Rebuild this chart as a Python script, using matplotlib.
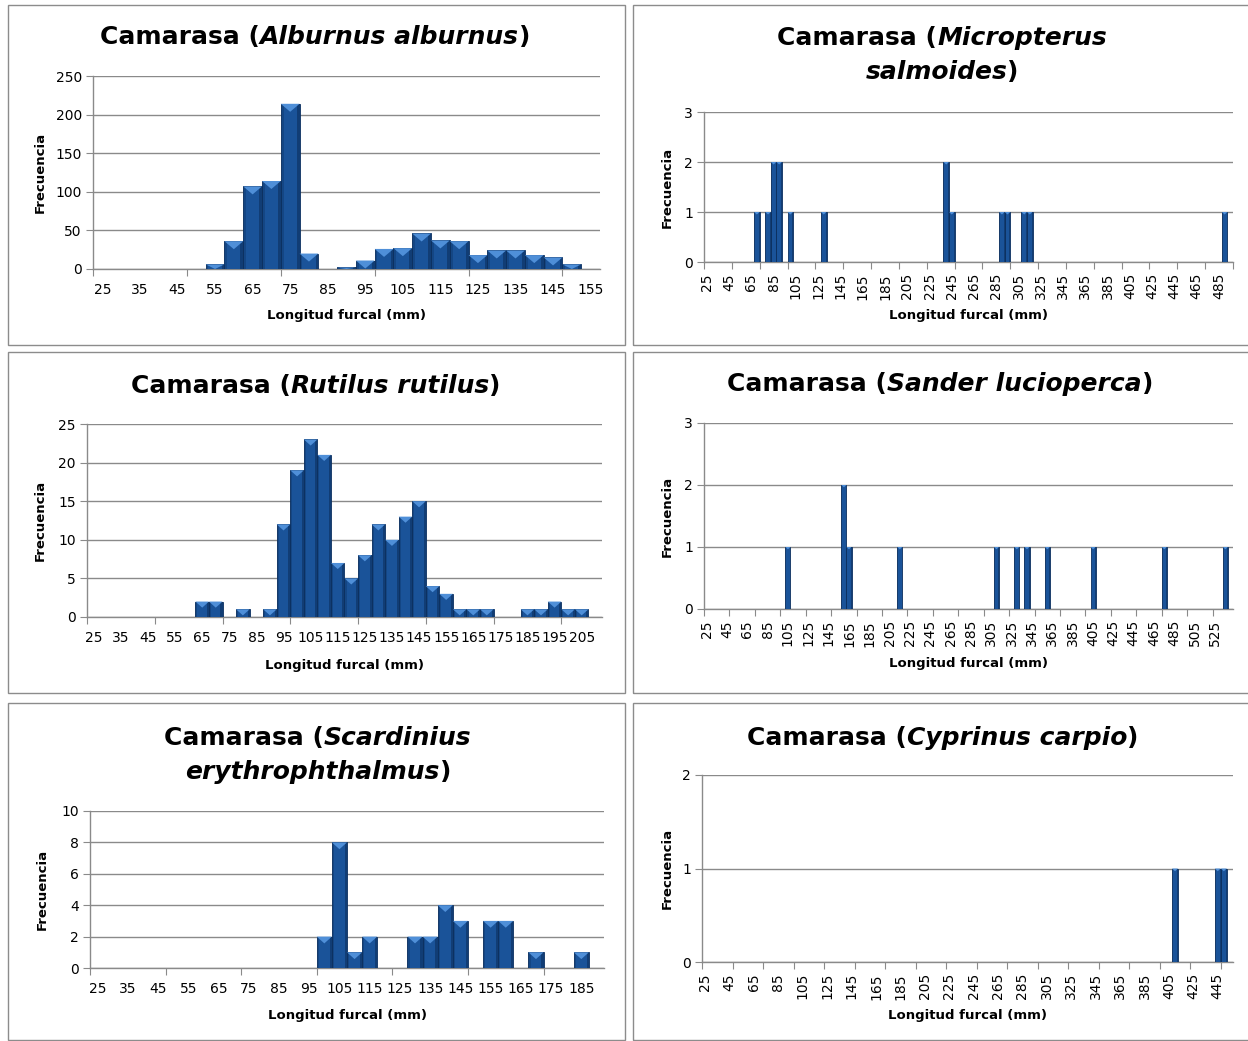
import matplotlib
matplotlib.use("Agg")
import matplotlib.pyplot as plt
from matplotlib.patches import Rectangle, Polygon

plt.rcParams['font.family'] = ['DejaVu Sans']

W, H = 1248, 1041

# --- datos: clases de longitud furcal (mm, limite inferior) y frecuencias ---
alburnus_bins = [55, 60, 65, 70, 75, 80, 90, 95, 100, 105, 110, 115, 120, 125, 130, 135, 140, 145, 150]
alburnus_counts = [6, 36, 107, 114, 214, 20, 2, 11, 26, 27, 46, 37, 36, 18, 24, 24, 18, 15, 6]

micropterus_bins = [70, 80, 85, 90, 100, 130, 240, 245, 290, 295, 310, 315, 490]
micropterus_counts = [1, 1, 2, 2, 1, 1, 2, 1, 1, 1, 1, 1, 1]

rutilus_bins = [65, 70, 80, 90, 95, 100, 105, 110, 115, 120, 125, 130, 135, 140, 145,
                150, 155, 160, 165, 170, 185, 190, 195, 200, 205]
rutilus_counts = [2, 2, 1, 1, 12, 19, 23, 21, 7, 5, 8, 12, 10, 13, 15,
                  4, 3, 1, 1, 1, 1, 1, 2, 1, 1]

sander_bins = [105, 160, 165, 215, 310, 330, 340, 360, 405, 475, 535]
sander_counts = [1, 2, 1, 1, 1, 1, 1, 1, 1, 1, 1]

scardinius_bins = [100, 105, 110, 115, 130, 135, 140, 145, 155, 160, 170, 185]
scardinius_counts = [2, 8, 1, 2, 2, 2, 4, 3, 3, 3, 1, 1]

cyprinus_bins = [410, 445, 450]
cyprinus_counts = [1, 1, 1]

BASE = '#1a5399'
DARK = '#0b2f5e'
LIGHT = '#4f8fd8'
GRID = '#8a8a8a'

fig = plt.figure(figsize=(W / 100, H / 100), dpi=100)


def frame(x0, y0, x1, y1):
    fig.patches.append(Rectangle((x0 / W, 1 - y1 / H), (x1 - x0) / W, (y1 - y0) / H,
                                 transform=fig.transFigure, fill=False,
                                 edgecolor='#8c8c8c', linewidth=1.0))


def rich_line(xc, y, parts, size=18):
    r = fig.canvas.get_renderer()
    texts = []
    for s, st in parts:
        t = fig.text(0, 1 - y / H, s, fontsize=size, fontweight='bold',
                     fontstyle=st, ha='left', va='center')
        texts.append(t)
    widths = [t.get_window_extent(renderer=r).width for t in texts]
    x = xc - sum(widths) / 2
    for t, w in zip(texts, widths):
        t.set_x(x / W)
        x += w


def panel(box, bins, counts, last, ymax, ystep, lab_every, rotate, ylab_x, xlab_y):
    x0, y0, x1, y1 = box
    ax = fig.add_axes([x0 / W, 1 - y1 / H, (x1 - x0) / W, (y1 - y0) / H])
    ncat = (last - 25) // 5 + 1
    cats = [25 + 5 * i for i in range(ncat)]
    pos = [(b - 25) // 5 for b in bins]
    bars = ax.bar(pos, counts, width=1.0, color=BASE, edgecolor=DARK,
                  linewidth=0.6, zorder=3)

    px_x = (x1 - x0) / ncat
    px_y = (y1 - y0) / ymax
    for b in bars:
        bx, bw, bh = b.get_x(), b.get_width(), b.get_height()
        e = bw * 0.15
        ax.add_patch(Rectangle((bx, 0), e, bh, color=DARK, lw=0, alpha=0.35, zorder=4))
        ax.add_patch(Rectangle((bx + bw - e, 0), e, bh, color=DARK, lw=0, alpha=0.6, zorder=4))
        d = min(0.45 * bw * px_x, 8) / px_y
        d = min(d, bh)
        ax.add_patch(Polygon([(bx, bh), (bx + bw, bh), (bx + bw / 2, bh - d)],
                             closed=True, color=LIGHT, lw=0, zorder=5))

    ax.set_xlim(-0.5, ncat - 0.5)
    ax.set_ylim(0, ymax)
    ax.set_yticks(range(0, ymax + 1, ystep))
    ax.yaxis.grid(True, color=GRID, linewidth=1.0, zorder=0)
    ax.set_axisbelow(True)
    for s in ('top', 'right'):
        ax.spines[s].set_visible(False)
    for s in ('left', 'bottom'):
        ax.spines[s].set_color(GRID)
        ax.spines[s].set_linewidth(1.0)

    ax.set_xticks([i - 0.5 for i in range(0, ncat + 1, 5)])
    ax.set_xticklabels([])
    ax.set_xticks(list(range(0, ncat, lab_every)), minor=True)
    ax.set_xticklabels([str(c) for c in cats[::lab_every]], minor=True,
                       rotation=90 if rotate else 0, fontsize=10)
    ax.tick_params(axis='x', which='major', length=5, color=GRID, direction='out')
    ax.tick_params(axis='x', which='minor', length=0, pad=8 if rotate else 10)
    ax.tick_params(axis='y', length=5, color=GRID, labelsize=10, pad=3)

    fig.text(ylab_x / W, 1 - (y0 + y1) / 2 / H, 'Frecuencia', rotation=90,
             fontsize=9.5, fontweight='bold', ha='center', va='center')
    fig.text((x0 + x1) / 2 / W, 1 - xlab_y / H, 'Longitud furcal (mm)',
             fontsize=9.5, fontweight='bold', ha='center', va='center')
    return ax


# marcos de cada grafico
frame(8, 5, 625, 345)
frame(633, 5, 1252, 345)
frame(8, 352, 625, 693)
frame(633, 352, 1252, 693)
frame(8, 703, 625, 1040)
frame(633, 703, 1252, 1040)

panel((93, 76, 600, 269), alburnus_bins, alburnus_counts, 155, 250, 50, 2, False, 40, 316)
panel((704, 112, 1233, 262), micropterus_bins, micropterus_counts, 495, 3, 1, 4, True, 667, 316)
panel((87, 424, 602, 617), rutilus_bins, rutilus_counts, 210, 25, 5, 2, False, 40, 665)
panel((704, 423, 1233, 609), sander_bins, sander_counts, 540, 3, 1, 4, True, 667, 663)
panel((90, 811, 604, 968), scardinius_bins, scardinius_counts, 190, 10, 2, 2, False, 42, 1015)
panel((702, 775, 1233, 962), cyprinus_bins, cyprinus_counts, 455, 2, 1, 4, True, 667, 1016)

rich_line(315, 37, [('Camarasa (', 'normal'), ('Alburnus alburnus', 'italic'), (')', 'normal')])
rich_line(942, 38, [('Camarasa (', 'normal'), ('Micropterus', 'italic')])
rich_line(942, 72, [('salmoides', 'italic'), (')', 'normal')])
rich_line(316, 386, [('Camarasa (', 'normal'), ('Rutilus rutilus', 'italic'), (')', 'normal')])
rich_line(940, 384, [('Camarasa (', 'normal'), ('Sander lucioperca', 'italic'), (')', 'normal')])
rich_line(318, 738, [('Camarasa (', 'normal'), ('Scardinius', 'italic')])
rich_line(318, 772, [('erythrophthalmus', 'italic'), (')', 'normal')])
rich_line(943, 738, [('Camarasa (', 'normal'), ('Cyprinus carpio', 'italic'), (')', 'normal')])

fig.savefig('out.png', dpi=100)
